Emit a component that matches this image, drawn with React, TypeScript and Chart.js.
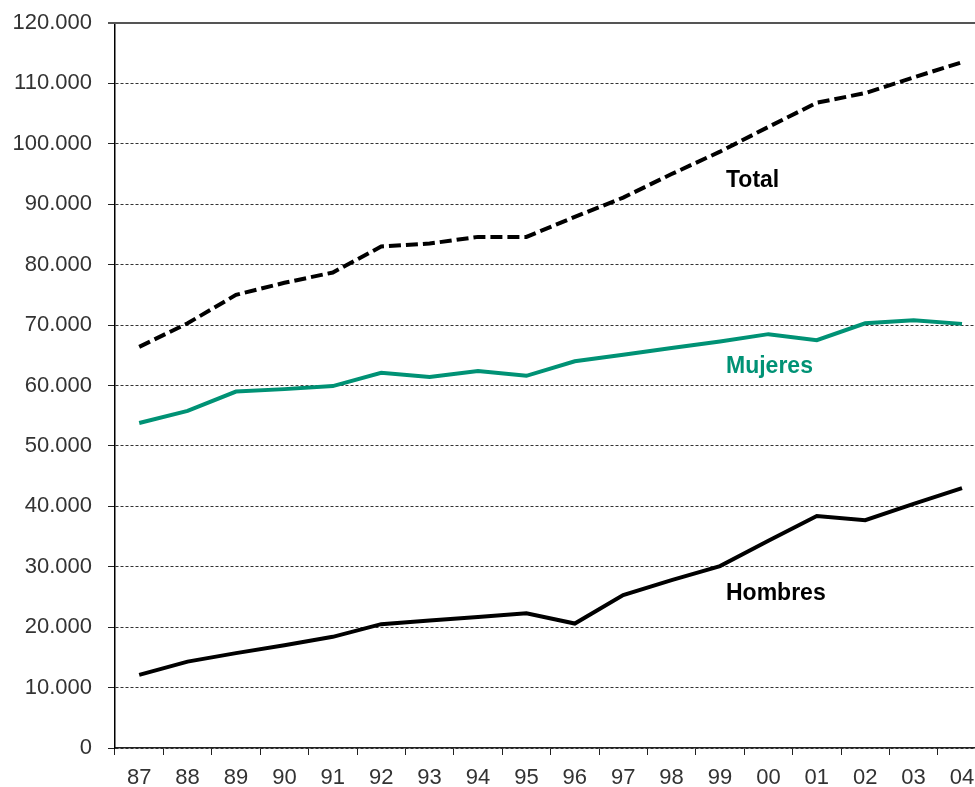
import React, { useEffect, useRef } from "react";
import { Chart, registerables } from "chart.js";

Chart.register(...registerables);

const categories = ["87", "88", "89", "90", "91", "92", "93", "94", "95", "96", "97", "98", "99", "00", "01", "02", "03", "04"];
const totalValues = [66400, 70300, 75000, 77000, 78700, 83000, 83500, 84600, 84600, 87900, 91100, 95000, 98700, 102800, 106800, 108400, 111000, 113500];
const mujeresValues = [53800, 55800, 59000, 59400, 59900, 62100, 61400, 62400, 61600, 64000, 65100, 66200, 67300, 68500, 67500, 70300, 70800, 70200];
const hombresValues = [12100, 14300, 15700, 17000, 18400, 20500, 21100, 21700, 22300, 20600, 25300, 27800, 30100, 34300, 38400, 37700, 40400, 43000];

const yMin = 0;
const yMax = 120000;
const yStep = 10000;

const seriesLabels = ["Total", "Mujeres", "Hombres"];
const labelCategory = "99";
const labelYValues = [93900, 63200, 25500];

const GREEN = "#009275";
const labelColors = ["#000000", GREEN, "#000000"];

const FONT = '"Liberation Sans", Arial, Helvetica, sans-serif';

function fmt(v: number): string {
  return String(Math.round(v)).replace(/\B(?=(\d{3})+(?!\d))/g, ".");
}

const annotationPlugin = {
  id: "seriesNames",
  afterDatasetsDraw(chart: any) {
    const { ctx, scales } = chart;
    const xs = scales.x;
    const ys = scales.y;
    const idx = categories.indexOf(labelCategory);
    ctx.save();
    ctx.font = `bold 23px ${FONT}`;
    ctx.textAlign = "left";
    ctx.textBaseline = "middle";
    seriesLabels.forEach((t, i) => {
      ctx.fillStyle = labelColors[i];
      ctx.fillText(t, xs.getPixelForValue(idx) + 6, ys.getPixelForValue(labelYValues[i]));
    });
    ctx.restore();
  },
  afterDraw(chart: any) {
    const { ctx, chartArea } = chart;
    ctx.save();
    ctx.strokeStyle = "#555555";
    ctx.lineWidth = 2;
    ctx.beginPath();
    ctx.moveTo(chartArea.left - 7, chartArea.top);
    ctx.lineTo(chartArea.right, chartArea.top);
    ctx.stroke();
    ctx.restore();
  },
};

export default function App() {
  const ref = useRef<HTMLCanvasElement>(null);
  useEffect(() => {
    Chart.defaults.font.family = FONT;
    const chart = new Chart(ref.current!, {
      type: "line",
      data: {
        labels: categories,
        datasets: [
          {
            label: "Total",
            data: totalValues,
            borderColor: "#000000",
            borderWidth: 4,
            borderDash: [12, 5],
            pointRadius: 0,
            tension: 0,
            fill: false,
          },
          {
            label: "Mujeres",
            data: mujeresValues,
            borderColor: GREEN,
            borderWidth: 4,
            pointRadius: 0,
            tension: 0,
            fill: false,
          },
          {
            label: "Hombres",
            data: hombresValues,
            borderColor: "#000000",
            borderWidth: 4,
            pointRadius: 0,
            tension: 0,
            fill: false,
          },
        ],
      },
      options: {
        responsive: false,
        animation: false,
        layout: { padding: { top: 23, right: 3.8, bottom: 0, left: 0 } },
        plugins: {
          legend: { display: false },
          tooltip: { enabled: false },
          title: { display: false },
        },
        scales: {
          x: {
            type: "category",
            offset: true,
            grid: {
              offset: true,
              drawOnChartArea: false,
              drawTicks: true,
              tickLength: 7,
              tickColor: "#222222",
              tickWidth: 1,
            },
            border: { display: true, color: "#222222", width: 1.5 },
            ticks: {
              color: "#333333",
              font: { size: 22, family: FONT },
              padding: 10,
              maxRotation: 0,
              autoSkip: false,
            },
            afterFit(scale: any) {
              scale.height = 39;
              scale.paddingLeft = 0;
              scale.paddingRight = 0;
            },
          },
          y: {
            min: yMin,
            max: yMax,
            grid: {
              color: (ctx: any) => (ctx.tick && ctx.tick.value === yMax ? "rgba(0,0,0,0)" : "#333333"),
              lineWidth: 1,
              tickLength: 7,
              tickColor: "#222222",
              tickBorderDash: [],
            },
            border: { display: true, color: "#000000", width: 1.5, dash: [3, 2] },
            ticks: {
              stepSize: yStep,
              color: "#333333",
              font: { size: 22, family: FONT },
              padding: 16,
              callback: (v: any) => fmt(Number(v)),
            },
            afterFit(scale: any) {
              scale.width = 115;
              scale.paddingTop = 0;
              scale.paddingBottom = 0;
            },
          },
        },
      },
      plugins: [annotationPlugin],
    } as any);
    return () => chart.destroy();
  }, []);
  return (
    <div
      style={{
        position: "absolute",
        left: 0,
        top: 0,
        width: 975,
        height: 787,
        overflow: "hidden",
        background: "#ffffff",
      }}
    >
      <canvas ref={ref} width={990} height={787} style={{ display: "block", width: 990, height: 787 }} />
    </div>
  );
}
